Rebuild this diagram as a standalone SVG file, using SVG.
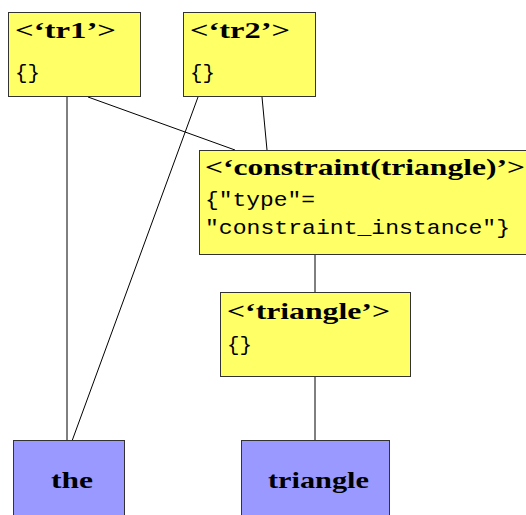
<svg xmlns="http://www.w3.org/2000/svg" width="526" height="515" viewBox="0 0 526 515">
  <style>
    .conn line { stroke: #000; stroke-width: 1; fill: none; }
    .box { fill: #ffff66; stroke: #333; stroke-width: 1; }
    .word { fill: #9999ff; stroke: #333; stroke-width: 1; }
    .title { font-family: "Liberation Serif", "DejaVu Serif", serif; font-weight: bold; font-size: 24px; fill: #000; }
    .attr { font-family: "Liberation Mono", "DejaVu Sans Mono", monospace; font-size: 21px; fill: #000; }
    .label { font-family: "Liberation Serif", "DejaVu Serif", serif; font-weight: bold; font-size: 24px; fill: #000; }
  </style>
  <rect width="526" height="515" fill="#fff"/>

  <!-- connectors -->
  <g class="conn">
    <line x1="67" y1="97" x2="67" y2="441"/>
    <line x1="88" y1="97" x2="235" y2="150"/>
    <line x1="198" y1="97" x2="72" y2="441"/>
    <line x1="262" y1="97" x2="267" y2="150"/>
    <line x1="315" y1="254" x2="315" y2="293"/>
    <line x1="315" y1="377" x2="315" y2="441"/>
  </g>

  <g id="tr1">
    <rect class="box" x="8.5" y="12.5" width="132" height="84"/>
    <text class="title" x="15" y="38" textLength="101" lengthAdjust="spacingAndGlyphs">&lt;‘tr1’&gt;</text>
    <text class="attr" x="15" y="79" textLength="25" lengthAdjust="spacingAndGlyphs">{}</text>
  </g>

  <g id="tr2">
    <rect class="box" x="183.5" y="12.5" width="132" height="84"/>
    <text class="title" x="190" y="38" textLength="100" lengthAdjust="spacingAndGlyphs">&lt;‘tr2’&gt;</text>
    <text class="attr" x="190" y="79" textLength="25" lengthAdjust="spacingAndGlyphs">{}</text>
  </g>

  <g id="constraint">
    <rect class="box" x="199.5" y="150.5" width="330" height="104"/>
    <text class="title" x="205" y="175" textLength="320" lengthAdjust="spacingAndGlyphs">&lt;‘constraint(triangle)’&gt;</text>
    <text class="attr" x="205" y="206" textLength="110" lengthAdjust="spacingAndGlyphs">{"type"=</text>
    <text class="attr" x="205" y="234" textLength="305" lengthAdjust="spacingAndGlyphs">"constraint_instance"}</text>
  </g>

  <g id="triangle-inst">
    <rect class="box" x="220.5" y="292.5" width="190" height="84"/>
    <text class="title" x="227" y="319" textLength="163" lengthAdjust="spacingAndGlyphs">&lt;‘triangle’&gt;</text>
    <text class="attr" x="227" y="351" textLength="25" lengthAdjust="spacingAndGlyphs">{}</text>
  </g>

  <g id="the">
    <rect class="word" x="13.5" y="440.5" width="111" height="80"/>
    <text class="label" x="51" y="488" textLength="42" lengthAdjust="spacingAndGlyphs">the</text>
  </g>

  <g id="triangle">
    <rect class="word" x="241.5" y="440.5" width="148" height="80"/>
    <text class="label" x="268" y="488" textLength="101" lengthAdjust="spacingAndGlyphs">triangle</text>
  </g>
</svg>
